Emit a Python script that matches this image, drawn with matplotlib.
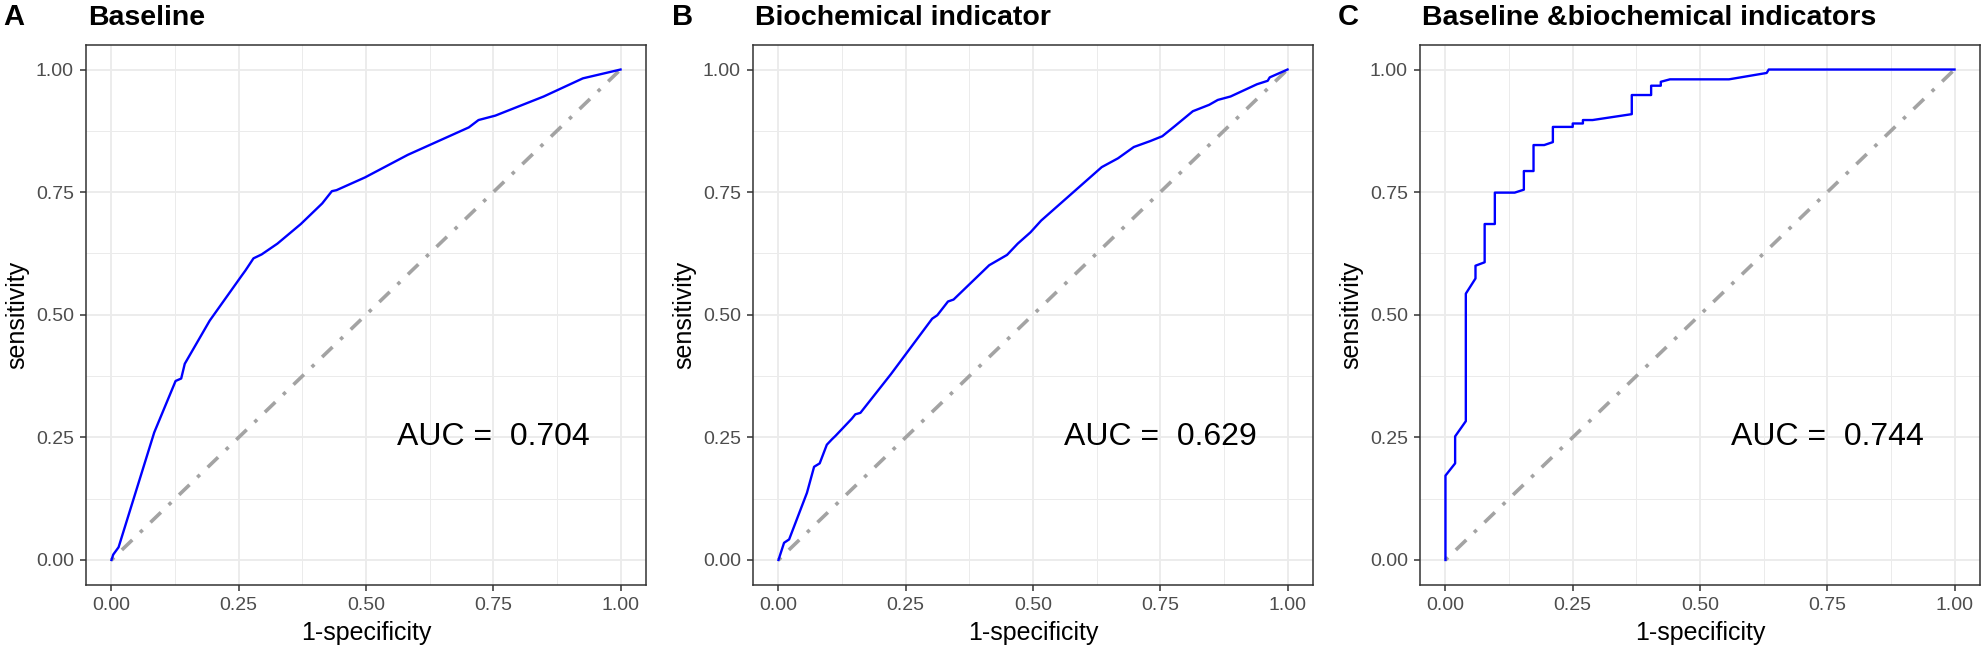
import matplotlib
matplotlib.use("Agg")
import matplotlib.pyplot as plt
from matplotlib.ticker import MultipleLocator

plt.rcParams['font.family'] = ['Liberation Sans', 'DejaVu Sans']

# ---------------- data ----------------
panel_letters = ["A", "B", "C"]
panel_titles = ["Baseline", "Biochemical indicator", "Baseline &biochemical indicators"]
auc_values = [0.704, 0.629, 0.744]

a_fpr = [0, 0.0035, 0.014, 0.084, 0.126, 0.137, 0.144, 0.193, 0.256, 0.263, 0.279, 0.295,
         0.326, 0.372, 0.414, 0.433, 0.442, 0.498, 0.582, 0.702, 0.721, 0.754, 0.849, 0.926, 1.0]
a_tpr = [0, 0.011, 0.026, 0.26, 0.365, 0.37, 0.40, 0.488, 0.58, 0.59, 0.615, 0.623,
         0.645, 0.685, 0.727, 0.752, 0.754, 0.78, 0.826, 0.882, 0.897, 0.906, 0.945, 0.982, 1.0]

b_fpr = [0, 0.011, 0.021, 0.056, 0.070, 0.081, 0.095, 0.105, 0.112, 0.144, 0.151, 0.161,
         0.221, 0.302, 0.312, 0.333, 0.344, 0.414, 0.449, 0.470, 0.495, 0.516, 0.635, 0.667,
         0.698, 0.730, 0.754, 0.779, 0.814, 0.846, 0.863, 0.888, 0.940, 0.961, 0.965, 1.0]
b_tpr = [0, 0.035, 0.042, 0.137, 0.19, 0.197, 0.235, 0.246, 0.253, 0.288, 0.297, 0.30,
         0.379, 0.492, 0.499, 0.527, 0.531, 0.601, 0.622, 0.645, 0.668, 0.692, 0.801, 0.819,
         0.842, 0.854, 0.864, 0.885, 0.915, 0.928, 0.938, 0.945, 0.970, 0.977, 0.984, 1.0]

c_fpr = [0, 0, 0.019, 0.019, 0.040, 0.040, 0.059, 0.059, 0.077, 0.077,
         0.097, 0.097, 0.136, 0.154, 0.154, 0.173, 0.173, 0.194, 0.211, 0.211,
         0.250, 0.250, 0.270, 0.270, 0.289, 0.366, 0.366, 0.404, 0.404, 0.423,
         0.423, 0.441, 0.557, 0.631, 0.635, 1.0]
c_tpr = [0, 0.172, 0.197, 0.252, 0.283, 0.543, 0.574, 0.600, 0.607, 0.685,
         0.685, 0.749, 0.749, 0.755, 0.793, 0.793, 0.846, 0.846, 0.852, 0.883,
         0.883, 0.890, 0.890, 0.897, 0.897, 0.909, 0.948, 0.948, 0.967, 0.967,
         0.975, 0.980, 0.980, 0.993, 1.0, 1.0]

curves = [(a_fpr, a_tpr), (b_fpr, b_tpr), (c_fpr, c_tpr)]
tick_values = [0.0, 0.25, 0.5, 0.75, 1.0]
tick_labels = ["0.00", "0.25", "0.50", "0.75", "1.00"]

# ---------------- layout (pixels) ----------------
W, H = 1982, 649
fig = plt.figure(figsize=(W / 100, H / 100), dpi=100)
fig.patch.set_facecolor("white")

ax_left_px = [86, 753, 1420]
letter_x_px = [3, 672, 1338]
ax_w_px = 560
ax_top_px, ax_bot_px = 45, 584.5

for i in range(3):
    ax = fig.add_axes([ax_left_px[i] / W, (H - ax_bot_px) / H,
                       ax_w_px / W, (ax_bot_px - ax_top_px) / H])
    ax.set_facecolor("white")
    ax.set_xlim(-0.05, 1.05)
    ax.set_ylim(-0.05, 1.05)
    ax.xaxis.set_minor_locator(MultipleLocator(0.125))
    ax.yaxis.set_minor_locator(MultipleLocator(0.125))
    ax.set_xticks(tick_values)
    ax.set_xticklabels(tick_labels)
    ax.set_yticks(tick_values)
    ax.set_yticklabels(tick_labels)
    ax.grid(which="major", color="#EBEBEB", linewidth=1.3, zorder=0)
    ax.grid(which="minor", color="#EBEBEB", linewidth=0.7, zorder=0)
    ax.set_axisbelow(True)
    ax.tick_params(which="major", length=4.3, width=1.1, color="#333333",
                   labelsize=14, labelcolor="#4D4D4D", pad=4.5)
    ax.tick_params(which="minor", length=0)
    for sp in ax.spines.values():
        sp.set_color("#333333")
        sp.set_linewidth(1.1)

    # diagonal reference
    ax.plot([0, 1], [0, 1], color="#A3A3A3", linewidth=2.6,
            dashes=(1, 3, 4, 3), zorder=2)
    fpr, tpr = curves[i]
    ax.plot(fpr, tpr, color="#0000FF", linewidth=1.7, zorder=3)
    ax.text(0.75, 0.25, "AUC =  %.3f" % auc_values[i], fontsize=23,
            ha="center", va="center", color="black", zorder=4)

    # axis titles
    fig.text((ax_left_px[i] - 69) / W, (H - (ax_top_px + ax_bot_px) / 2) / H,
             "sensitivity", rotation=90, ha="center", va="center", fontsize=18)
    fig.text((ax_left_px[i] + ax_w_px / 2) / W, (H - 640) / H, "1-specificity",
             ha="center", va="baseline", fontsize=18)

    # panel letters and titles
    fig.text(letter_x_px[i] / W, (H - 25) / H, panel_letters[i], fontsize=21,
             fontweight="bold", ha="left", va="baseline")
    fig.text((ax_left_px[i] + 2) / W, (H - 25) / H, panel_titles[i], fontsize=20.5,
             fontweight="bold", ha="left", va="baseline")

fig.savefig("out.png", dpi=100, facecolor="white")
